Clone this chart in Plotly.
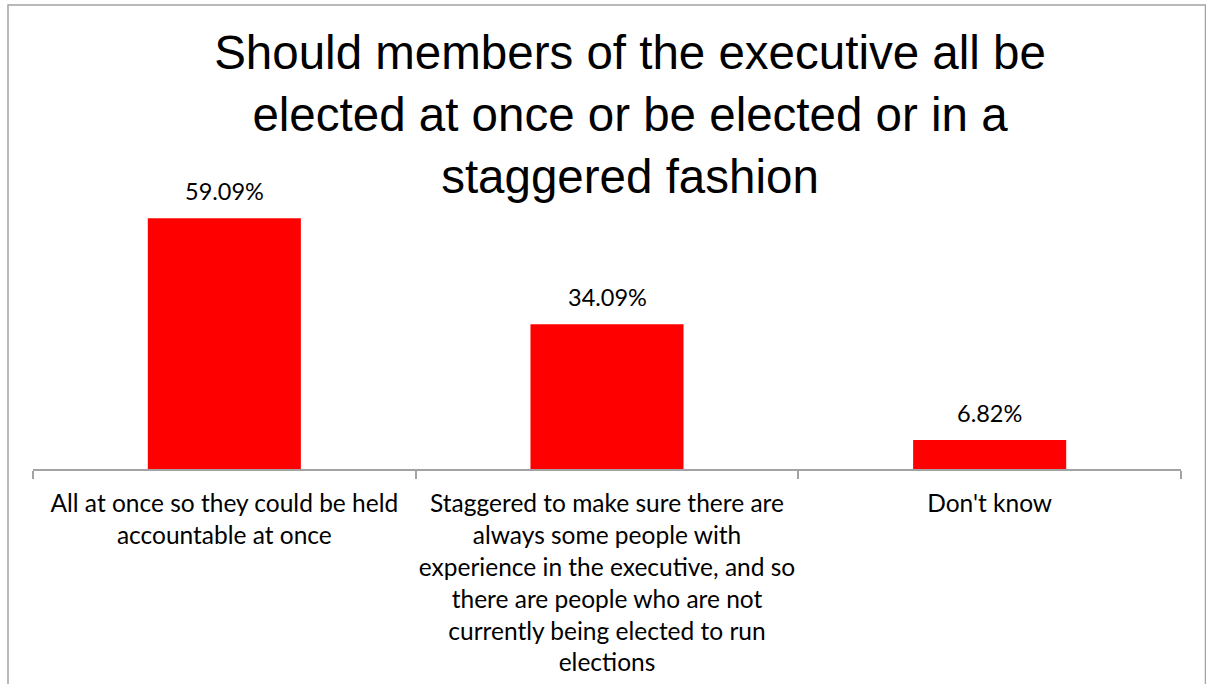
import plotly.graph_objects as go

# Survey answers and their shares (%)
categories = [
    "All at once so they could be held<br>accountable at once",
    "Staggered to make sure there are<br>always some people with<br>experience in the executive, and so<br>there are people who are not<br>currently being elected to run<br>elections",
    "Don't know",
]
shares = [59.09, 34.09, 6.82]
title_text = ("Should members of the executive all be<br>"
              "elected at once or be elected or in a<br>staggered fashion")

W, H = 1206, 684
LABEL_FONT = "Lato, 'Open Sans', sans-serif"
GREY = "#a3a3a3"

fig = go.Figure()
fig.add_trace(go.Bar(
    x=categories,
    y=shares,
    marker=dict(color="#ff0000", line=dict(width=0)),
    width=0.4,
    hoverinfo="skip",
))

# value labels above each bar
for cat, val in zip(categories, shares):
    fig.add_annotation(
        x=cat, y=val, xref="x", yref="y",
        text=f"{val:.2f}%", showarrow=False,
        yanchor="bottom", yshift=11,
        font=dict(family=LABEL_FONT, size=23.5, color="#000000"),
    )

# outer chart frame
fig.add_shape(
    type="rect", xref="paper", yref="paper",
    x0=(8 - 33) / (1181 - 33), x1=(1205.5 - 33) / (1181 - 33),
    y0=-(690 - 469) / (469 - 172), y1=(469 - 5) / (469 - 172),
    line=dict(color=GREY, width=1.5), fillcolor="rgba(0,0,0,0)",
    layer="below",
)

fig.update_layout(
    width=W, height=H,
    margin=dict(l=33, r=W - 1181, t=172, b=H - 469, pad=0, autoexpand=False),
    paper_bgcolor="white", plot_bgcolor="white",
    showlegend=False,
    title=dict(
        text=title_text,
        x=630 / W, xanchor="center",
        y=1 - 69 / H, yanchor="top",
        automargin=False,
        font=dict(family="'Liberation Sans', Arial, sans-serif", size=47.5, color="#000000"),
    ),
    xaxis=dict(
        type="category",
        range=[-0.5, 2.5],
        automargin=False,
        tickangle=0,
        showline=True, linecolor=GREY, linewidth=1.5,
        ticks="outside", tickson="boundaries", ticklen=8, tickcolor=GREY, tickwidth=1.5,
        ticklabelstandoff=12,
        tickfont=dict(family=LABEL_FONT, size=24.5, color="#000000"),
        showgrid=False, zeroline=False,
    ),
    yaxis=dict(
        range=[0, 70], visible=False, showgrid=False, zeroline=False,
        automargin=False,
    ),
)

fig.write_html("out.html")
